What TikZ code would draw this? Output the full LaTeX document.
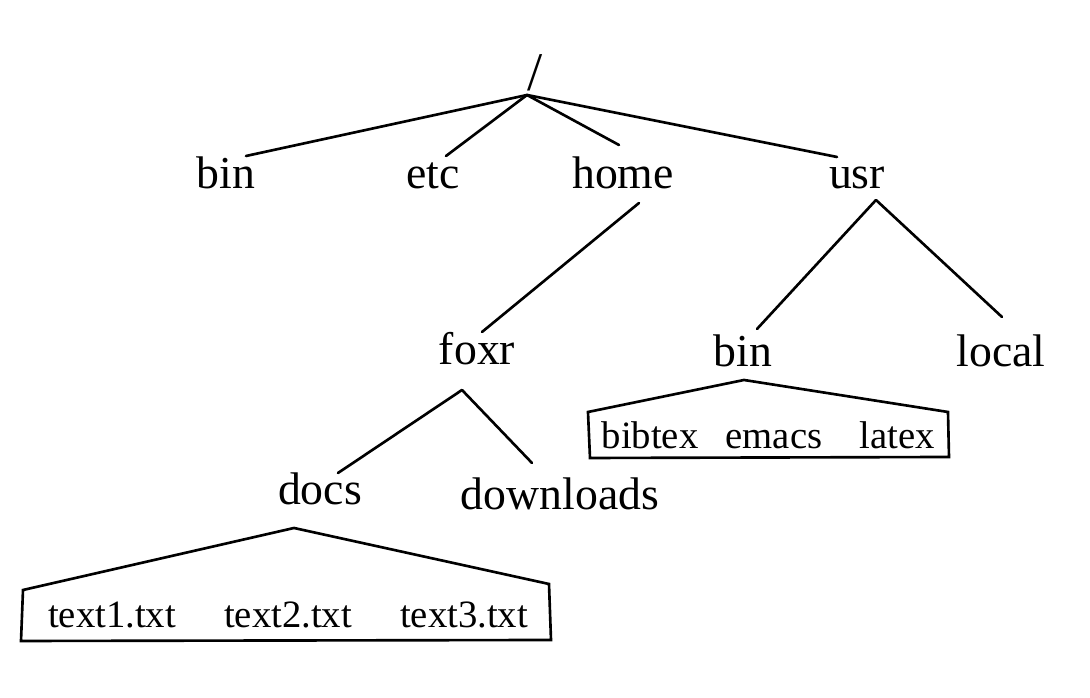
\documentclass[tikz,border=0pt]{standalone}
\usepackage{fontspec}
\setmainfont{Liberation Serif}
\usetikzlibrary{calc}

\tikzset{
	dir/.style={font=\fontsize{13}{15}\selectfont, inner sep=0pt, anchor=base},
	file/.style={font=\fontsize{11}{13}\selectfont, inner sep=0pt, anchor=base},
	branch/.style={line width=0.75pt, line cap=round},
	roof/.style={line width=0.75pt, line join=miter}
}

\begin{document}
\begin{tikzpicture}[x=0.01cm, y=-0.01cm]
	\useasboundingbox (0,0) rectangle (1090,698);
	% Directories:
	\node[dir, font=\fontsize{15.5}{17}\selectfont](root) at (535, 91){/};
	\node[dir](bin) at (226, 189){bin};
	\node[dir](etc) at (433, 189){etc};
	\node[dir](home) at (623, 189){home};
	\node[dir](usr) at (857, 189){usr};
	\node[dir](foxr) at (477, 365){foxr};
	\node[dir](ubin) at (743, 367){bin};
	\node[dir](local) at (1001, 367){local};
	\node[dir](docs) at (320, 505){docs};
	\node[dir](downloads) at (560, 510){downloads};
	% Files under the roofs:
	\node[file](bibtex) at (650, 449){bibtex};
	\node[file](emacs) at (774, 449){emacs};
	\node[file](latex) at (897, 449){latex};
	\node[file](text1) at (112, 628){text1.txt};
	\node[file](text2) at (288, 628){text2.txt};
	\node[file](text3) at (464, 628){text3.txt};
	% Branches:
	\draw[branch] ($(root.base)+(-8,4)$) -- ($(bin.base)+(20,-33)$);
	\draw[branch] ($(root.base)+(-8,4)$) -- ($(etc.base)+(13,-33)$);
	\draw[branch] ($(root.base)+(-8,4)$) -- ($(home.base)+(-4,-44)$);
	\draw[branch] ($(root.base)+(-8,4)$) -- ($(usr.base)+(-20,-32)$);
	\draw[branch] ($(home.base)+(16,14)$) -- ($(foxr.base)+(5,-33)$);
	\draw[branch] ($(usr.base)+(19,11)$) -- ($(ubin.base)+(14,-38)$);
	\draw[branch] ($(usr.base)+(19,11)$) -- ($(local.base)+(1,-50)$);
	\draw[branch] ($(foxr.base)+(-15,25)$) -- ($(docs.base)+(18,-32)$);
	\draw[branch] ($(foxr.base)+(-15,25)$) -- ($(downloads.base)+(-28,-47)$);
	% Roofs:
	\draw[roof] ($(ubin.base)+(1,13)$) -- (948, 412) -- (949, 457) -- (590, 458) -- (588, 412) -- cycle;
	\draw[roof] ($(docs.base)+(-26,23)$) -- (549, 584) -- (551, 640) -- (21, 641) -- (23, 590) -- cycle;
\end{tikzpicture}
\end{document}
